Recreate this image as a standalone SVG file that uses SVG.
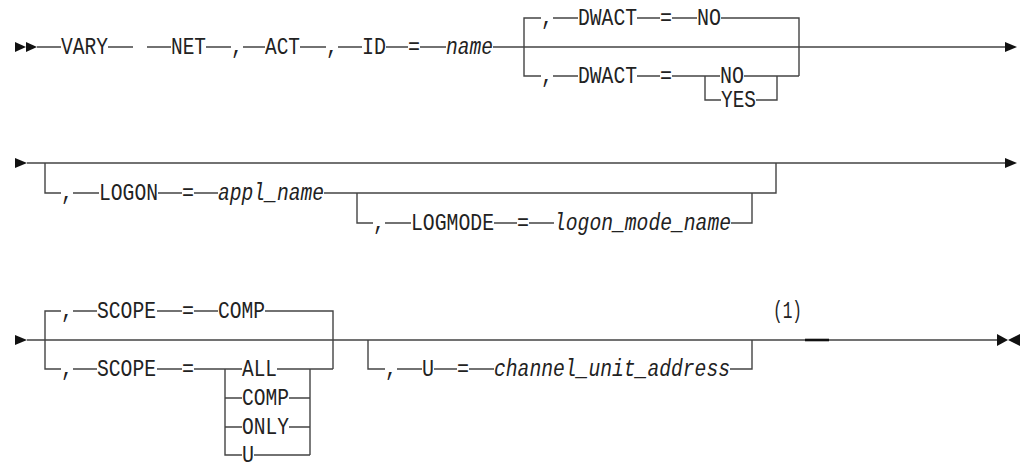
<svg xmlns="http://www.w3.org/2000/svg" width="1024" height="462" viewBox="0 0 1024 462">
<style>
.t{font-family:"Liberation Mono","DejaVu Sans Mono",monospace;font-size:24px;fill:#222}
.i{font-style:italic}
.ln{fill:none;stroke:#444;stroke-width:1.4}
.ar{fill:#111}
</style>
<rect width="1024" height="462" fill="#fff"/>
<g id="connectors">
<path class="ln" d="M37 47H61M108 47H133M147 47H171M206 47H231M243 47H265M300 47H326M338 47H362M386 47H408M420 47H446M493 47H1005"/>
<path class="ln" d="M524 47V18H541M553 18H578M637 18H660M672 18H697M721 18H799V76M524 47V76H541M553 76H578M637 76H660M672 76H720M744 76H799M705 76V100H721M756 100H777V76"/>
<path class="ln" d="M27 163H1005M45 163V193H61M73 193H99M158 193H182M194 193H218M324 193H776V163M357 193V223H373M385 223H411M494 223H517M529 223H554M731 223H752V193"/>
<path class="ln" d="M27 340H997M45 340V311H61M73 311H97M157 311H182M194 311H218M265 311H333V369M45 340V369H61M73 369H97M157 369H182M194 369H242M277 369H333M225 369V455H242M225 398H242M225 427H242M289 398H310M289 427H310M254 455H310M310 369V455M368 340V369H385M397 369H422M434 369H457M469 369H494M730 369H752V340"/>
<path d="M805 340H829" stroke="#111" stroke-width="2.6"/>
<polygon class="ar" points="15,42 15,52 26,47"/>
<polygon class="ar" points="26,42 26,52 37,47"/>
<polygon class="ar" points="1005,42 1005,52 1017,47"/>
<polygon class="ar" points="15,158 15,168 27,163"/>
<polygon class="ar" points="1005,158 1005,168 1017,163"/>
<polygon class="ar" points="15,335 15,345 27,340"/>
<polygon class="ar" points="997,334 997,346 1008,340"/>
<polygon class="ar" points="1020,334 1020,346 1008,340"/>
</g>
<g id="vary"><text class="t" x="61" y="54" textLength="47" lengthAdjust="spacingAndGlyphs">VARY</text></g>
<g id="net"><text class="t" x="171" y="54" textLength="35" lengthAdjust="spacingAndGlyphs">NET</text></g>
<g id="c1"><text class="t" x="231" y="54" textLength="12" lengthAdjust="spacingAndGlyphs">,</text></g>
<g id="act"><text class="t" x="265" y="54" textLength="35" lengthAdjust="spacingAndGlyphs">ACT</text></g>
<g id="c2"><text class="t" x="326" y="54" textLength="12" lengthAdjust="spacingAndGlyphs">,</text></g>
<g id="id"><text class="t" x="362" y="54" textLength="24" lengthAdjust="spacingAndGlyphs">ID</text></g>
<g id="eq1"><text class="t" x="408" y="54" textLength="12" lengthAdjust="spacingAndGlyphs">=</text></g>
<g id="name"><text class="t i" x="446" y="54" textLength="47" lengthAdjust="spacingAndGlyphs">name</text></g>
<g id="dw1">
<text class="t" x="541" y="25" textLength="12" lengthAdjust="spacingAndGlyphs">,</text>
<text class="t" x="578" y="25" textLength="59" lengthAdjust="spacingAndGlyphs">DWACT</text>
<text class="t" x="660" y="25" textLength="12" lengthAdjust="spacingAndGlyphs">=</text>
<text class="t" x="697" y="25" textLength="24" lengthAdjust="spacingAndGlyphs">NO</text>
</g>
<g id="dw2">
<text class="t" x="541" y="83" textLength="12" lengthAdjust="spacingAndGlyphs">,</text>
<text class="t" x="578" y="83" textLength="59" lengthAdjust="spacingAndGlyphs">DWACT</text>
<text class="t" x="660" y="83" textLength="12" lengthAdjust="spacingAndGlyphs">=</text>
<text class="t" x="720" y="83" textLength="24" lengthAdjust="spacingAndGlyphs">NO</text>
<text class="t" x="721" y="107" textLength="35" lengthAdjust="spacingAndGlyphs">YES</text>
</g>
<g id="logon">
<text class="t" x="61" y="200" textLength="12" lengthAdjust="spacingAndGlyphs">,</text>
<text class="t" x="99" y="200" textLength="59" lengthAdjust="spacingAndGlyphs">LOGON</text>
<text class="t" x="182" y="200" textLength="12" lengthAdjust="spacingAndGlyphs">=</text>
<text class="t i" x="218" y="200" textLength="106" lengthAdjust="spacingAndGlyphs">appl_name</text>
</g>
<g id="logmode">
<text class="t" x="373" y="230" textLength="12" lengthAdjust="spacingAndGlyphs">,</text>
<text class="t" x="411" y="230" textLength="83" lengthAdjust="spacingAndGlyphs">LOGMODE</text>
<text class="t" x="517" y="230" textLength="12" lengthAdjust="spacingAndGlyphs">=</text>
<text class="t i" x="554" y="230" textLength="177" lengthAdjust="spacingAndGlyphs">logon_mode_name</text>
</g>
<g id="scope1">
<text class="t" x="61" y="318" textLength="12" lengthAdjust="spacingAndGlyphs">,</text>
<text class="t" x="97" y="318" textLength="59" lengthAdjust="spacingAndGlyphs">SCOPE</text>
<text class="t" x="182" y="318" textLength="12" lengthAdjust="spacingAndGlyphs">=</text>
<text class="t" x="218" y="318" textLength="47" lengthAdjust="spacingAndGlyphs">COMP</text>
</g>
<g id="scope2">
<text class="t" x="61" y="376" textLength="12" lengthAdjust="spacingAndGlyphs">,</text>
<text class="t" x="97" y="376" textLength="59" lengthAdjust="spacingAndGlyphs">SCOPE</text>
<text class="t" x="182" y="376" textLength="12" lengthAdjust="spacingAndGlyphs">=</text>
<text class="t" x="242" y="376" textLength="35" lengthAdjust="spacingAndGlyphs">ALL</text>
<text class="t" x="242" y="405" textLength="47" lengthAdjust="spacingAndGlyphs">COMP</text>
<text class="t" x="242" y="434" textLength="47" lengthAdjust="spacingAndGlyphs">ONLY</text>
<text class="t" x="242" y="462" textLength="12" lengthAdjust="spacingAndGlyphs">U</text>
</g>
<g id="unit">
<text class="t" x="385" y="376" textLength="12" lengthAdjust="spacingAndGlyphs">,</text>
<text class="t" x="422" y="376" textLength="12" lengthAdjust="spacingAndGlyphs">U</text>
<text class="t" x="457" y="376" textLength="12" lengthAdjust="spacingAndGlyphs">=</text>
<text class="t i" x="494" y="376" textLength="236" lengthAdjust="spacingAndGlyphs">channel_unit_address</text>
</g>
<g id="note"><text class="t" x="773" y="318" textLength="29" lengthAdjust="spacingAndGlyphs">(1)</text></g>
</svg>
